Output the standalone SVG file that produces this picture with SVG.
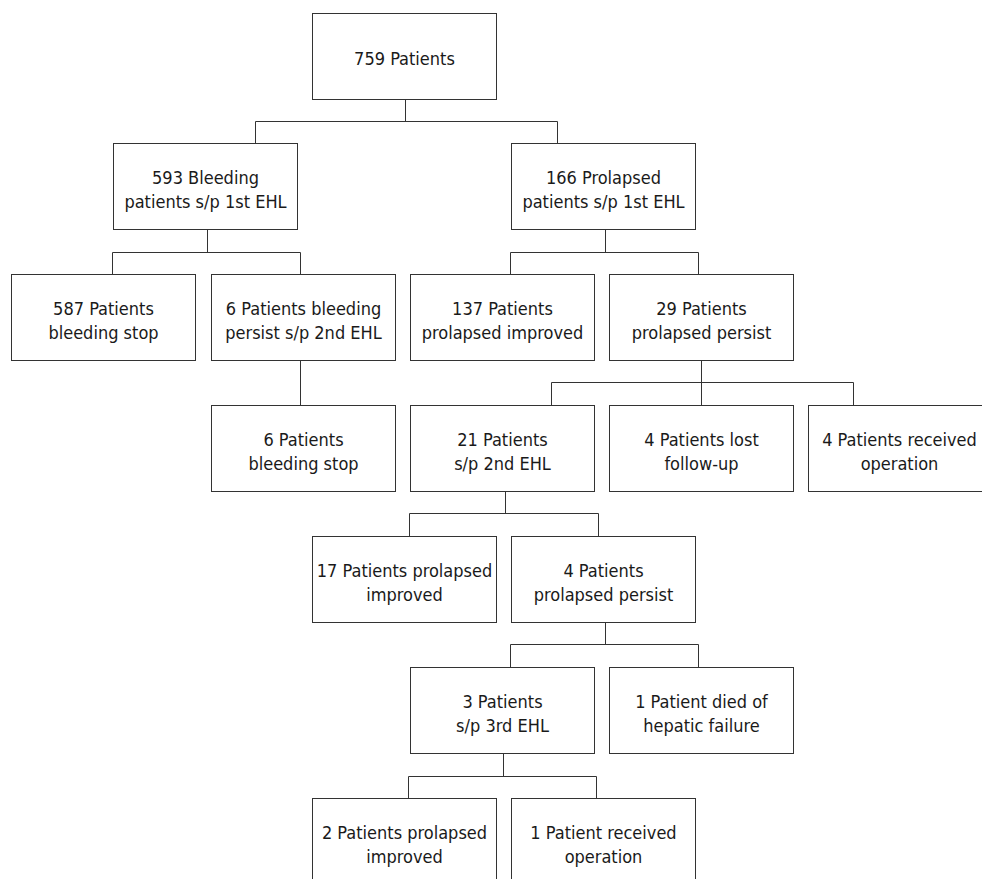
<svg xmlns="http://www.w3.org/2000/svg" width="982" height="879" viewBox="0 0 982 879">
<style>
.box{fill:#fff;stroke:#333;stroke-width:1}
.t{font-family:"DejaVu Sans Condensed","DejaVu Sans",Tahoma,sans-serif;font-stretch:condensed;font-size:18px;fill:#1a1a1a;text-anchor:middle}
.c{fill:none;stroke:#333;stroke-width:1}
</style>
<rect width="982" height="879" fill="#fff"/>
<g id="connectors">
<path class="c" d="M405.5 99.5V121.5M255.5 143.5V121.5H557.5V143.5"/>
<path class="c" d="M207.5 229.5V252.5M112.5 274.5V252.5H300.5V274.5"/>
<path class="c" d="M605.5 229.5V252.5M510.5 274.5V252.5H698.5V274.5"/>
<path class="c" d="M300.5 360.5V405.5"/>
<path class="c" d="M701.5 360.5V405.5M551.5 405.5V382.5H853.5V405.5"/>
<path class="c" d="M505.5 491.5V513.5M409.5 536.5V513.5H598.5V536.5"/>
<path class="c" d="M605.5 622.5V644.5M510.5 667.5V644.5H698.5V667.5"/>
<path class="c" d="M503.5 753.5V776.5M408.5 798.5V776.5H596.5V798.5"/>
</g>
<g id="n0"><rect class="box" x="312.5" y="13.5" width="184" height="86"/><text class="t" x="404.5" y="65">759 Patients</text></g>
<g id="n1"><rect class="box" x="113.5" y="143.5" width="184" height="86"/><text class="t" x="205.5" y="184">593 Bleeding</text><text class="t" x="205.5" y="208">patients s/p 1st EHL</text></g>
<g id="n2"><rect class="box" x="511.5" y="143.5" width="184" height="86"/><text class="t" x="603.5" y="184">166 Prolapsed</text><text class="t" x="603.5" y="208">patients s/p 1st EHL</text></g>
<g id="n3"><rect class="box" x="11.5" y="274.5" width="184" height="86"/><text class="t" x="103.5" y="315">587 Patients</text><text class="t" x="103.5" y="339">bleeding stop</text></g>
<g id="n4"><rect class="box" x="211.5" y="274.5" width="184" height="86"/><text class="t" x="303.5" y="315">6 Patients bleeding</text><text class="t" x="303.5" y="339">persist s/p 2nd EHL</text></g>
<g id="n5"><rect class="box" x="410.5" y="274.5" width="184" height="86"/><text class="t" x="502.5" y="315">137 Patients</text><text class="t" x="502.5" y="339">prolapsed improved</text></g>
<g id="n6"><rect class="box" x="609.5" y="274.5" width="184" height="86"/><text class="t" x="701.5" y="315">29 Patients</text><text class="t" x="701.5" y="339">prolapsed persist</text></g>
<g id="n7"><rect class="box" x="211.5" y="405.5" width="184" height="86"/><text class="t" x="303.5" y="446">6 Patients</text><text class="t" x="303.5" y="470">bleeding stop</text></g>
<g id="n8"><rect class="box" x="410.5" y="405.5" width="184" height="86"/><text class="t" x="502.5" y="446">21 Patients</text><text class="t" x="502.5" y="470">s/p 2nd EHL</text></g>
<g id="n9"><rect class="box" x="609.5" y="405.5" width="184" height="86"/><text class="t" x="701.5" y="446">4 Patients lost</text><text class="t" x="701.5" y="470">follow-up</text></g>
<g id="n10"><rect class="box" x="808.5" y="405.5" width="184" height="86"/><text class="t" x="899.5" y="446">4 Patients received</text><text class="t" x="899.5" y="470">operation</text></g>
<g id="n11"><rect class="box" x="312.5" y="536.5" width="184" height="86"/><text class="t" x="404.5" y="577">17 Patients prolapsed</text><text class="t" x="404.5" y="601">improved</text></g>
<g id="n12"><rect class="box" x="511.5" y="536.5" width="184" height="86"/><text class="t" x="603.5" y="577">4 Patients</text><text class="t" x="603.5" y="601">prolapsed persist</text></g>
<g id="n13"><rect class="box" x="410.5" y="667.5" width="184" height="86"/><text class="t" x="502.5" y="708">3 Patients</text><text class="t" x="502.5" y="732">s/p 3rd EHL</text></g>
<g id="n14"><rect class="box" x="609.5" y="667.5" width="184" height="86"/><text class="t" x="701.5" y="708">1 Patient died of</text><text class="t" x="701.5" y="732">hepatic failure</text></g>
<g id="n15"><rect class="box" x="312.5" y="798.5" width="184" height="86"/><text class="t" x="404.5" y="839">2 Patients prolapsed</text><text class="t" x="404.5" y="863">improved</text></g>
<g id="n16"><rect class="box" x="511.5" y="798.5" width="184" height="86"/><text class="t" x="603.5" y="839">1 Patient received</text><text class="t" x="603.5" y="863">operation</text></g>
</svg>
